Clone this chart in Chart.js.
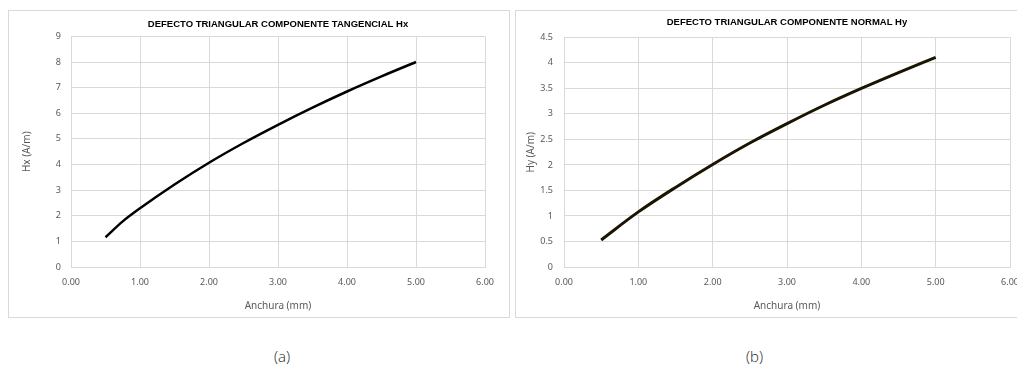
<!DOCTYPE html>
<html>
<head>
<meta charset="utf-8">
<script src="https://cdn.jsdelivr.net/npm/chart.js@4"></script>
<style>
  html, body { margin: 0; padding: 0; background: #fff; }
  body { width: 1017px; height: 385px; position: relative; overflow: hidden; }
  .box { position: absolute; top: 10px; height: 306px; border: 1px solid #d9d9d9; }
  #boxA { left: 8px; width: 500px; }
  #boxB { left: 515px; width: 600px; }
  .cap { position: absolute; top: 346px; font: 300 15px "Open Sans", sans-serif; color: #222; }
</style>
</head>
<body>
<div class="box" id="boxA"><canvas id="chartA" width="500" height="305"></canvas></div>
<div class="box" id="boxB"><canvas id="chartB" width="520" height="305"></canvas></div>
<div class="cap" style="left:274px">(a)</div>
<div class="cap" style="left:746px">(b)</div>
<script>
// anchura del defecto (mm)
const anchuraA = [0.5, 0.75, 1.0, 1.5, 2.0, 2.5, 3.0, 3.5, 4.0, 4.5, 5.0];
const hx = [1.16, 1.78, 2.29, 3.22, 4.07, 4.84, 5.55, 6.22, 6.85, 7.44, 8.0];
const anchuraB = [0.5, 1.0, 1.5, 2.0, 2.5, 3.0, 3.5, 4.0, 4.5, 5.0];
const hy = [0.53, 1.08, 1.56, 2.01, 2.43, 2.81, 3.17, 3.50, 3.81, 4.11];

const gridColor = '#d9d9d9';
const tickColor = '#595959';
const tickFont = { family: 'Noto Sans', size: 9 };

function makeChart(el, cfg) {
  const pts = cfg.xs.map((x, i) => ({ x: x, y: cfg.ys[i] }));
  return new Chart(document.getElementById(el), {
    type: 'line',
    data: {
      datasets: [{
        data: pts,
        borderColor: cfg.color,
        borderWidth: cfg.lw,
        pointRadius: 0,
        cubicInterpolationMode: 'monotone',
        fill: false
      }]
    },
    options: {
      responsive: false,
      animation: false,
      layout: { padding: { left: 0, right: cfg.padRight, top: 0, bottom: 0 } },
      plugins: {
        legend: { display: false },
        tooltip: { enabled: false },
        title: {
          display: true,
          text: cfg.title,
          fullSize: false,
          color: '#000',
          font: { family: 'Liberation Sans', size: 9.5, weight: 'bold' },
          padding: { top: cfg.titleTop, bottom: cfg.titleBottom }
        }
      },
      scales: {
        x: {
          type: 'linear',
          min: 0, max: 6,
          afterFit: s => { s.height = 49; },
          grid: { color: gridColor, drawTicks: false },
          border: { color: gridColor },
          ticks: {
            stepSize: 1, padding: 10, color: tickColor, font: tickFont,
            callback: v => v.toFixed(2)
          },
          title: {
            display: true, text: 'Anchura (mm)', color: tickColor,
            font: { family: 'Noto Sans', size: 10 }, padding: { top: 9 }
          }
        },
        y: {
          min: 0, max: cfg.ymax,
          afterFit: s => { s.width = cfg.yw; },
          grid: { color: gridColor, drawTicks: false },
          border: { color: gridColor },
          ticks: {
            stepSize: cfg.ystep, padding: cfg.ypad, color: tickColor, font: tickFont,
            callback: v => String(+v.toFixed(1))
          },
          title: {
            display: true, text: cfg.ytitle, color: tickColor,
            font: { family: 'Noto Sans', size: 10 }, padding: { top: cfg.ytitlePad }
          }
        }
      }
    }
  });
}

makeChart('chartA', {
  xs: anchuraA, ys: hx, color: '#000', lw: 2.5,
  title: 'DEFECTO TRIANGULAR COMPONENTE TANGENCIAL Hx',
  titleTop: 8, titleBottom: 6, padRight: 24,
  ymax: 9, ystep: 1, yw: 62, ypad: 10,
  ytitle: 'Hx (A/m)', ytitlePad: 12
});

makeChart('chartB', {
  xs: anchuraB, ys: hy, color: '#1a1400', lw: 3,
  title: 'DEFECTO TRIANGULAR COMPONENTE NORMAL Hy',
  titleTop: 6, titleBottom: 9, padRight: 26,
  ymax: 4.5, ystep: 0.5, yw: 48, ypad: 11,
  ytitle: 'Hy (A/m)', ytitlePad: 9
});
</script>
</body>
</html>
